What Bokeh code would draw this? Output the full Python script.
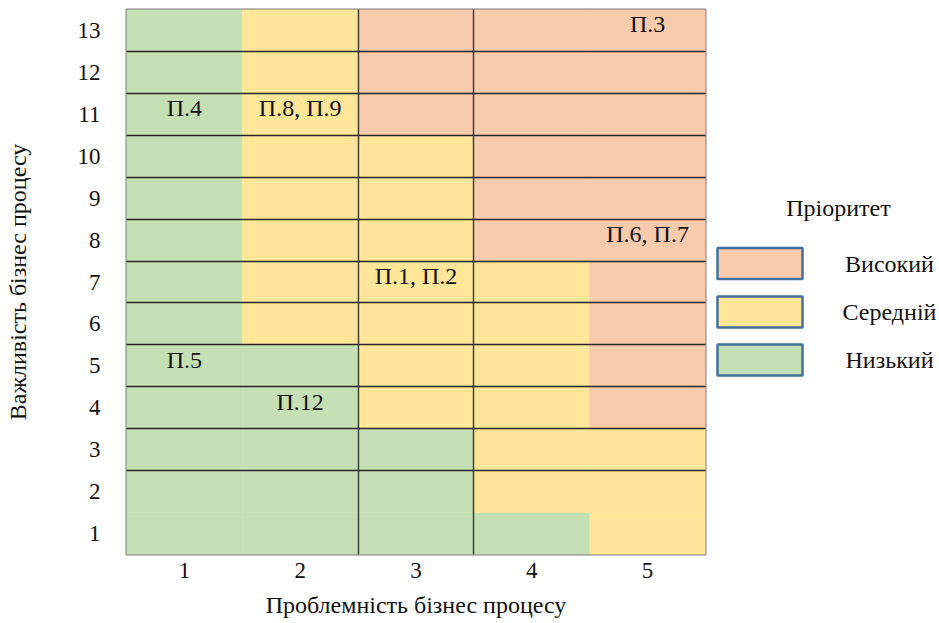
from bokeh.plotting import figure
from bokeh.models import FixedTicker, Range1d, ColumnDataSource
from bokeh.layouts import row
from bokeh.embed import file_html
from bokeh.resources import INLINE
from bokeh.core.properties import value

# ---------------- data ----------------
problem_levels = [1, 2, 3, 4, 5]                 # x: Проблемність бізнес процесу
importance_levels = list(range(1, 14))           # y: Важливість бізнес процесу

priority_names = ["Високий", "Середній", "Низький"]
priority_colors = ["#F8CBAD", "#FFE699", "#C5E0B4"]

# priority of each cell, one list per importance level (1 .. 13), over problem levels 1..5
H, M, L = "Високий", "Середній", "Низький"
priority_by_importance = [
    [L, L, L, L, M],   # 1
    [L, L, L, M, M],   # 2
    [L, L, L, M, M],   # 3
    [L, L, M, M, H],   # 4
    [L, L, M, M, H],   # 5
    [L, M, M, M, H],   # 6
    [L, M, M, M, H],   # 7
    [L, M, M, H, H],   # 8
    [L, M, M, H, H],   # 9
    [L, M, M, H, H],   # 10
    [L, M, H, H, H],   # 11
    [L, M, H, H, H],   # 12
    [L, M, H, H, H],   # 13
]

process_labels = ["П.3", "П.4", "П.8, П.9", "П.1, П.2", "П.6, П.7", "П.5", "П.12"]
process_problem = [5, 1, 2, 3, 5, 1, 2]
process_importance = [13, 11, 11, 7, 8, 5, 4]

# ---------------- styles ----------------
FONT = "Liberation Serif"
color_of = dict(zip(priority_names, priority_colors))

cx, cy, cc = [], [], []
for yi, row_vals in zip(importance_levels, priority_by_importance):
    for xi, pr in zip(problem_levels, row_vals):
        cx.append(xi)
        cy.append(yi)
        cc.append(color_of[pr])
cells = ColumnDataSource(dict(x=cx, y=cy, color=cc))

p = figure(width=707, height=621,
           x_range=Range1d(problem_levels[0] - 0.5, problem_levels[-1] + 0.5),
           y_range=Range1d(importance_levels[0] - 0.5, importance_levels[-1] + 0.5),
           output_backend="svg", toolbar_location=None,
           min_border_left=126, min_border_right=2, min_border_top=9, min_border_bottom=67)

p.rect(x="x", y="y", width=1, height=1, source=cells,
       fill_color="color", line_color="color", line_width=0.5)

labels = ColumnDataSource(dict(x=process_problem, y=process_importance, text=process_labels))
p.text(x="x", y="y", text="text", source=labels,
       text_font=value(FONT), text_font_size="24px", text_color="#111111",
       text_align="center", text_baseline="middle", y_offset=-6)

p.xgrid.ticker = FixedTicker(ticks=[2.5, 3.5])
p.ygrid.ticker = FixedTicker(ticks=[v + 0.5 for v in importance_levels[1:-1]])
for g in (p.xgrid, p.ygrid):
    g.grid_line_color = "#262626"
    g.grid_line_width = 1.5
    g.level = "guide"
p.xgrid.grid_line_color = "#404040"

p.outline_line_color = "#808080"
p.outline_line_width = 2

p.xaxis.ticker = problem_levels
p.yaxis.ticker = importance_levels
for ax in (p.xaxis[0], p.yaxis[0]):
    ax.axis_line_color = None
    ax.major_tick_line_color = None
    ax.minor_tick_line_color = None
    ax.major_label_text_font = FONT
    ax.major_label_text_font_size = "23px"
    ax.major_label_text_color = "#111111"
    ax.axis_label_text_font = FONT
    ax.axis_label_text_font_size = "24px"
    ax.axis_label_text_font_style = "normal"
    ax.axis_label_text_color = "#111111"
p.xaxis.axis_label = "Проблемність бізнес процесу"
p.yaxis.axis_label = "Важливість бізнес процесу"
p.xaxis.major_label_standoff = 2
p.xaxis.axis_label_standoff = 11
p.yaxis.major_label_standoff = 20
p.yaxis.axis_label_standoff = 44

# ---------------- legend panel ----------------
# its frame is aligned with the chart's frame vertically (page rows 10 .. 555)
lf = figure(width=229, height=621, x_range=Range1d(0, 229), y_range=Range1d(555, 10),
            output_backend="svg", toolbar_location=None,
            x_axis_location=None, y_axis_location=None,
            min_border_left=0, min_border_right=0, min_border_top=9, min_border_bottom=67)
lf.grid.visible = False
lf.outline_line_color = None

box_y = [264, 312.5, 360.5]
leg = ColumnDataSource(dict(y=box_y, color=priority_colors, name=priority_names))
lf.rect(x=52.5, y="y", width=85, height=31, source=leg,
        fill_color="color", line_color="#41719C", line_width=2.5)
lf.text(x=182, y="y", text="name", source=leg,
        text_font=value(FONT), text_font_size="24px", text_color="#111111",
        text_align="center", text_baseline="middle")
lf.text(x=[131], y=[208], text=["Пріоритет"],
        text_font=value(FONT), text_font_size="24px", text_color="#111111",
        text_align="center", text_baseline="middle")

layout = row(p, lf)
open("out.html", "w").write(file_html(layout, INLINE))
